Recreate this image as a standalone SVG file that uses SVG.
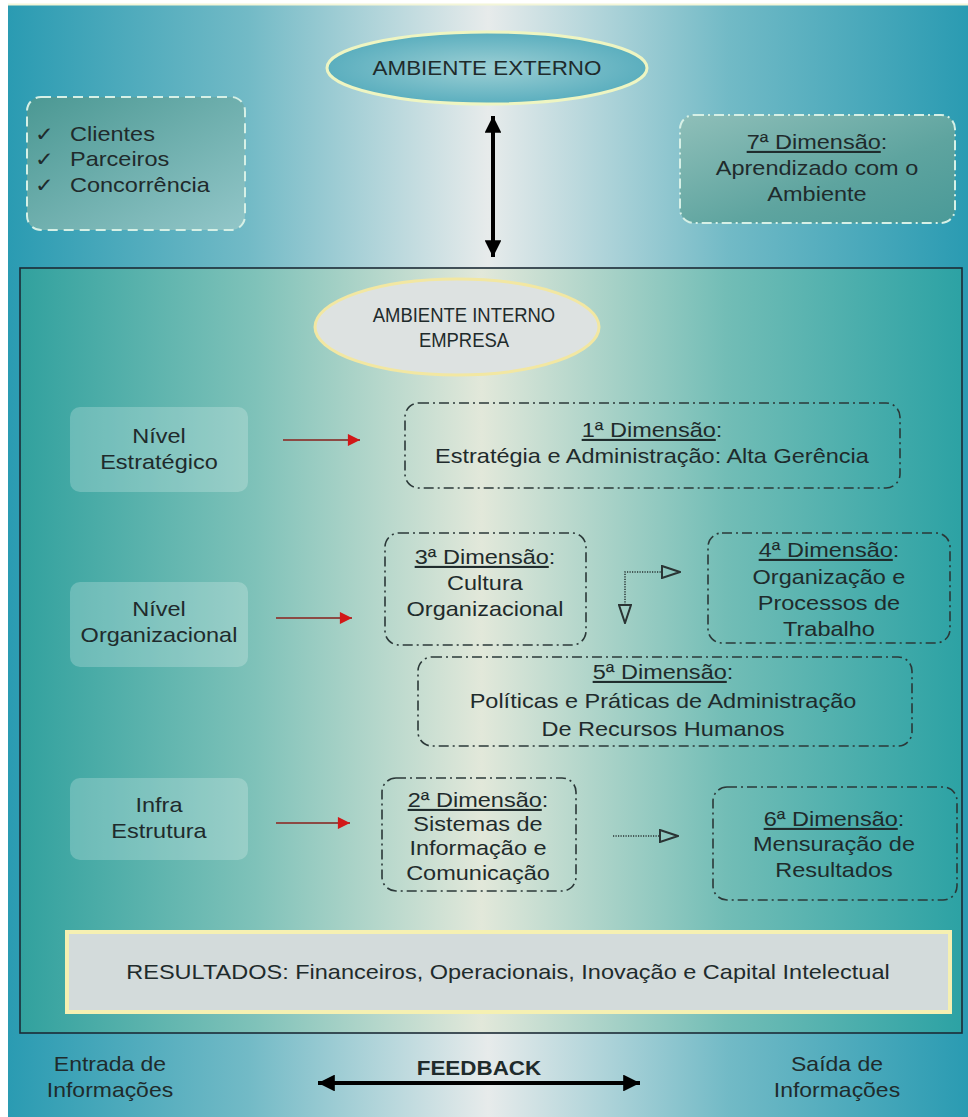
<svg xmlns="http://www.w3.org/2000/svg" width="968" height="1117" viewBox="0 0 968 1117">
<defs>
<linearGradient id="gOuter" x1="0" y1="0" x2="1" y2="0">
<stop offset="0" stop-color="#2a9bb2"/><stop offset="0.25" stop-color="#72bac6"/><stop offset="0.5" stop-color="#e7ebeb"/><stop offset="0.75" stop-color="#72bac6"/><stop offset="1" stop-color="#2a9bb2"/>
</linearGradient>
<linearGradient id="gInner" x1="0" y1="0" x2="1" y2="0">
<stop offset="0" stop-color="#31a19e"/><stop offset="0.25" stop-color="#7fc2b9"/><stop offset="0.49" stop-color="#e2e8da"/><stop offset="0.75" stop-color="#72bdb6"/><stop offset="1" stop-color="#2ca2a4"/>
</linearGradient>
<linearGradient id="gBoxL" x1="0" y1="0" x2="1" y2="1">
<stop offset="0" stop-color="#4b9893"/><stop offset="1" stop-color="#92c6c8"/>
</linearGradient>
<linearGradient id="gBoxR" x1="0" y1="0" x2="1" y2="1">
<stop offset="0" stop-color="#8fbfb9"/><stop offset="0.6" stop-color="#5ea49f"/><stop offset="1" stop-color="#4a9a98"/>
</linearGradient>
<radialGradient id="gEll" cx="0.5" cy="0.5" r="0.6">
<stop offset="0" stop-color="#9ccfd4"/><stop offset="1" stop-color="#4ea8ba"/>
</radialGradient>
<marker id="mRed" viewBox="0 0 10 10" refX="10" refY="5" markerWidth="7" markerHeight="5.5" orient="auto" markerUnits="strokeWidth">
<path d="M0,0 L10,5 L0,10 z" fill="#d21818"/>
</marker>
<marker id="mBlk" viewBox="0 0 10 10" refX="10" refY="5" markerWidth="5.5" markerHeight="4.2" orient="auto-start-reverse" markerUnits="strokeWidth">
<path d="M0,0 L10,5 L0,10 z" fill="#000"/>
</marker>
<marker id="mOpen" viewBox="0 0 20 14" refX="1" refY="7" markerWidth="20" markerHeight="14" orient="auto-start-reverse" markerUnits="userSpaceOnUse">
<path d="M1,1 L19,7 L1,13 z" fill="none" stroke="#2a3434" stroke-width="2"/>
</marker>
</defs>
<style>
text{font-family:"Liberation Sans",Arial,sans-serif;fill:#1f2b2c;text-anchor:middle;}
.t{font-size:21px;transform:scaleX(1.12);transform-box:fill-box;transform-origin:center;}
.n{font-size:20.5px;transform:scaleX(0.9);transform-box:fill-box;transform-origin:center;}
.s{text-anchor:start;transform-origin:left center;}
.u{text-decoration:underline;}
.dim{fill:none;stroke:#2b3838;stroke-width:1.6;stroke-dasharray:10 4 2 4;}
.lvl{fill:#ffffff;fill-opacity:0.22;stroke:none;}
.red{stroke:#8c4a44;stroke-width:2.2;fill:none;marker-end:url(#mRed);}
.dot{stroke:#2a3434;stroke-width:1.5;stroke-dasharray:1.2 1.3;fill:none;}
</style>
<rect x="0" y="0" width="968" height="1117" fill="#ffffff"/>
<rect x="8" y="4" width="960" height="1113" fill="url(#gOuter)"/>
<line x1="8" y1="4.5" x2="968" y2="4.5" stroke="#f4f6d8" stroke-width="2"/>

<g id="ambiente-externo">
<ellipse cx="487" cy="68" rx="160" ry="36" fill="url(#gEll)" stroke="#eef5c2" stroke-width="3"/>
<text x="487" y="75" class="t" style="font-size:20px">AMBIENTE EXTERNO</text>
</g>

<g id="externos">
<rect x="27" y="97" width="218" height="133" rx="14" fill="url(#gBoxL)" stroke="#d6f0e6" stroke-width="2" stroke-dasharray="10 6"/>
<text x="35" y="141" class="t s" style="font-size:20px">✓</text>
<text x="35" y="166" class="t s" style="font-size:20px">✓</text>
<text x="35" y="192" class="t s" style="font-size:20px">✓</text>
<text x="70" y="141" class="t s">Clientes</text>
<text x="70" y="166" class="t s">Parceiros</text>
<text x="70" y="192" class="t s">Concorrência</text>
</g>

<g id="dim7">
<rect x="680" y="115" width="275" height="108" rx="14" fill="url(#gBoxR)" stroke="#d6f0e6" stroke-width="2" stroke-dasharray="10 4 2 4"/>
<text x="817" y="149" class="t"><tspan class="u">7ª Dimensão</tspan>:</text>
<text x="817" y="175" class="t">Aprendizado com o</text>
<text x="817" y="201" class="t">Ambiente</text>
</g>

<g id="empresa">
<rect x="20" y="268" width="942" height="765" fill="url(#gInner)" stroke="#1c2b36" stroke-width="1.6"/>
</g>

<g id="ambiente-interno">
<ellipse cx="457" cy="327" rx="142" ry="48" fill="#dde2e1" stroke="#f2e7a2" stroke-width="3"/>
<text x="464" y="322" class="n">AMBIENTE INTERNO</text>
<text x="464" y="347" class="n">EMPRESA</text>
</g>

<g id="nivel-estrategico">
<rect x="70" y="407" width="178" height="85" rx="10" class="lvl"/>
<text x="159" y="443" class="t">Nível</text>
<text x="159" y="469" class="t">Estratégico</text>
</g>
<g id="nivel-organizacional">
<rect x="70" y="582" width="178" height="85" rx="10" class="lvl"/>
<text x="159" y="616" class="t">Nível</text>
<text x="159" y="642" class="t">Organizacional</text>
</g>
<g id="infra-estrutura">
<rect x="70" y="778" width="178" height="82" rx="10" class="lvl"/>
<text x="159" y="812" class="t">Infra</text>
<text x="159" y="838" class="t">Estrutura</text>
</g>

<g id="dim1">
<rect x="405" y="403" width="495" height="85" rx="14" class="dim"/>
<text x="652" y="437" class="t"><tspan class="u">1ª Dimensão</tspan>:</text>
<text x="652" y="463" class="t">Estratégia e Administração: Alta Gerência</text>
</g>
<g id="dim3">
<rect x="385" y="533" width="201" height="112" rx="14" class="dim"/>
<text x="485" y="564" class="t"><tspan class="u">3ª Dimensão</tspan>:</text>
<text x="485" y="590" class="t">Cultura</text>
<text x="485" y="616" class="t">Organizacional</text>
</g>
<g id="dim4">
<rect x="708" y="533" width="242" height="110" rx="14" class="dim"/>
<text x="829" y="557" class="t"><tspan class="u">4ª Dimensão</tspan>:</text>
<text x="829" y="584" class="t">Organização e</text>
<text x="829" y="610" class="t">Processos de</text>
<text x="829" y="636" class="t">Trabalho</text>
</g>
<g id="dim5">
<rect x="418" y="657" width="494" height="89" rx="14" class="dim"/>
<text x="663" y="679" class="t"><tspan class="u">5ª Dimensão</tspan>:</text>
<text x="663" y="708" class="t">Políticas e Práticas de Administração</text>
<text x="663" y="736" class="t">De Recursos Humanos</text>
</g>
<g id="dim2">
<rect x="382" y="778" width="194" height="113" rx="14" class="dim"/>
<text x="478" y="807" class="t"><tspan class="u">2ª Dimensão</tspan>:</text>
<text x="478" y="831" class="t">Sistemas de</text>
<text x="478" y="855" class="t">Informação e</text>
<text x="478" y="880" class="t">Comunicação</text>
</g>
<g id="dim6">
<rect x="713" y="787" width="244" height="113" rx="14" class="dim"/>
<text x="834" y="826" class="t"><tspan class="u">6ª Dimensão</tspan>:</text>
<text x="834" y="851" class="t">Mensuração de</text>
<text x="834" y="877" class="t">Resultados</text>
</g>

<g id="resultados">
<rect x="67" y="932" width="883" height="80" fill="#d3dbdb" stroke="#f5f0b2" stroke-width="4"/>
<text x="508" y="979" class="t">RESULTADOS: Financeiros, Operacionais, Inovação e Capital Intelectual</text>
</g>

<g id="entrada">
<text x="110" y="1071" class="t" style="font-size:20.5px">Entrada de</text>
<text x="110" y="1097" class="t" style="font-size:20.5px">Informações</text>
</g>
<g id="saida">
<text x="837" y="1071" class="t" style="font-size:20.5px">Saída de</text>
<text x="837" y="1097" class="t" style="font-size:20.5px">Informações</text>
</g>
<g id="feedback-label">
<text x="479" y="1075" class="t" style="font-weight:bold;font-size:20px">FEEDBACK</text>
</g>

<g id="connectors">
<line x1="493" y1="116" x2="493" y2="257" stroke="#000" stroke-width="4" marker-start="url(#mBlk)" marker-end="url(#mBlk)"/>
<line x1="283" y1="440" x2="360" y2="440" class="red"/>
<line x1="276" y1="618" x2="352" y2="618" class="red"/>
<line x1="276" y1="823" x2="350" y2="823" class="red"/>
<path d="M625,605 V572 H662" class="dot" marker-start="url(#mOpen)" marker-end="url(#mOpen)"/>
<path d="M613,836 H660" class="dot" marker-end="url(#mOpen)"/>
<line x1="318" y1="1083" x2="640" y2="1083" stroke="#000" stroke-width="4" marker-start="url(#mBlk)" marker-end="url(#mBlk)"/>
</g>
</svg>
